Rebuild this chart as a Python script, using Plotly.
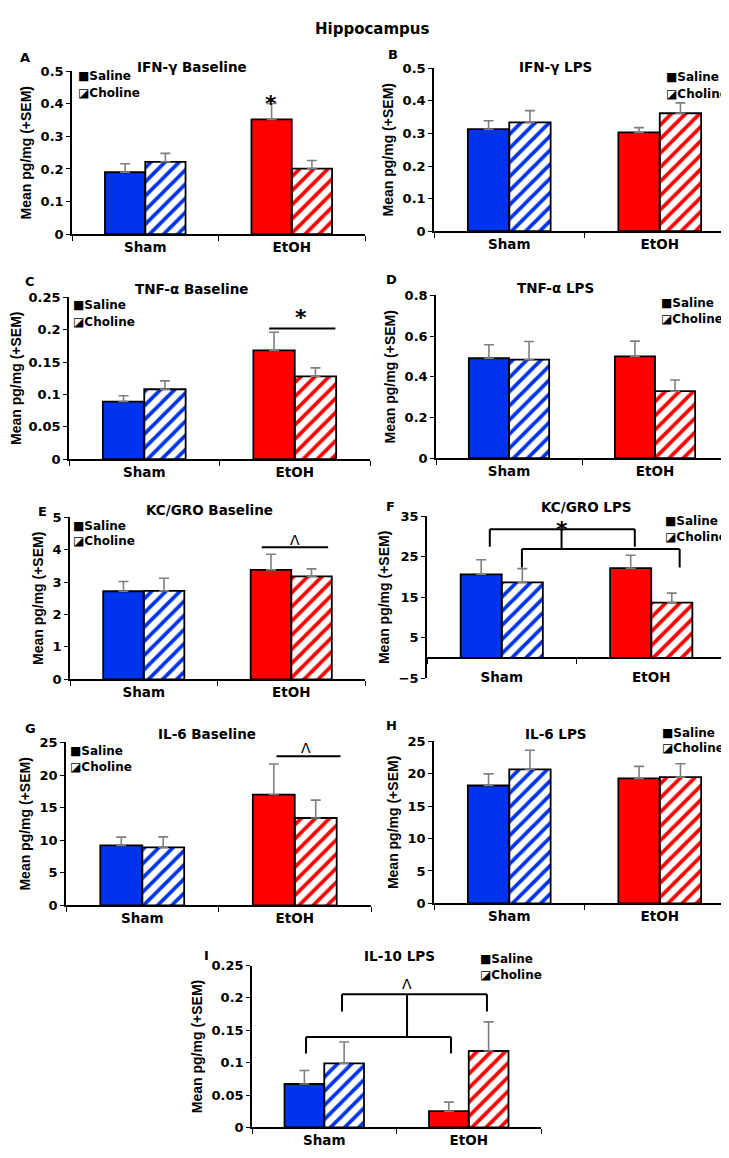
import plotly.graph_objects as go

W, H = 729, 1158

# ---------------- data ----------------
categories = ["Sham", "EtOH"]

ifng_base_saline = [0.190, 0.352]
ifng_base_saline_sem = [0.026, 0.049]
ifng_base_choline = [0.222, 0.201]
ifng_base_choline_sem = [0.026, 0.025]

ifng_lps_saline = [0.313, 0.303]
ifng_lps_saline_sem = [0.026, 0.015]
ifng_lps_choline = [0.334, 0.362]
ifng_lps_choline_sem = [0.036, 0.032]

tnfa_base_saline = [0.089, 0.168]
tnfa_base_saline_sem = [0.009, 0.028]
tnfa_base_choline = [0.108, 0.128]
tnfa_base_choline_sem = [0.013, 0.013]

tnfa_lps_saline = [0.491, 0.500]
tnfa_lps_saline_sem = [0.066, 0.075]
tnfa_lps_choline = [0.484, 0.329]
tnfa_lps_choline_sem = [0.089, 0.055]

kc_base_saline = [2.72, 3.38]
kc_base_saline_sem = [0.30, 0.48]
kc_base_choline = [2.73, 3.18]
kc_base_choline_sem = [0.39, 0.23]

kc_lps_saline = [20.7, 22.2]
kc_lps_saline_sem = [3.6, 3.2]
kc_lps_choline = [18.7, 13.7]
kc_lps_choline_sem = [3.4, 2.35]

il6_base_saline = [9.2, 17.0]
il6_base_saline_sem = [1.27, 4.7]
il6_base_choline = [8.9, 13.4]
il6_base_choline_sem = [1.6, 2.75]

il6_lps_saline = [18.2, 19.3]
il6_lps_saline_sem = [1.8, 1.85]
il6_lps_choline = [20.7, 19.5]
il6_lps_choline_sem = [2.95, 2.05]

il10_lps_saline = [0.067, 0.025]
il10_lps_saline_sem = [0.021, 0.014]
il10_lps_choline = [0.099, 0.118]
il10_lps_choline_sem = [0.033, 0.045]

# significance marks, x in category index units
# single lines: [x0, x1, y], mark: [text, x, y]
tnfa_base_line = [0.83, 1.27, 0.202]
tnfa_base_mark = ["*", 1.04, 0.226]
kc_base_line = [0.80, 1.25, 4.08]
kc_base_mark = ["Λ", 1.025, 4.31]
il6_base_line = [0.88, 1.30, 22.87]
il6_base_mark = ["Λ", 1.075, 24.2]
ifng_base_mark = ["*", 0.855, 0.416]
# brackets: [x0, x1, y, y_drop], stem: [x, y0, y1]
kc_lps_brackets = [[-0.08, 0.89, 31.8, 27.5], [0.135, 1.19, 26.95, 22.4]]
kc_lps_stem = [0.40, 26.95, 31.8]
kc_lps_mark = ["*", 0.40, 33.0]
il10_brackets = [[-0.126, 0.877, 0.1397, 0.114], [0.123, 1.126, 0.2058, 0.179]]
il10_stem = [0.573, 0.1397, 0.2058]
il10_mark = ["Λ", 0.573, 0.221]

# ---------------- panel set-up ----------------
# box = (left, top, right, bottom) in px
panels = [
    dict(letter="A", title="IFN-γ Baseline", s=ifng_base_saline, ss=ifng_base_saline_sem,
         c=ifng_base_choline, cs=ifng_base_choline_sem, yr=[0, 0.5], dt=0.1,
         box=(64, 57, 357, 222), tpos=(184, 53), lpos=(17, 43), leg=(68, 62, 79),
         marks=[ifng_base_mark]),
    dict(letter="B", title="IFN-γ LPS", s=ifng_lps_saline, ss=ifng_lps_saline_sem,
         c=ifng_lps_choline, cs=ifng_lps_choline_sem, yr=[0, 0.5], dt=0.1,
         box=(426, 54, 727, 219), tpos=(547, 53), lpos=(385, 40), leg=(656, 63, 80)),
    dict(letter="C", title="TNF-α Baseline", s=tnfa_base_saline, ss=tnfa_base_saline_sem,
         c=tnfa_base_choline, cs=tnfa_base_choline_sem, yr=[0, 0.25], dt=0.05,
         box=(61, 286, 362, 450), tpos=(184, 278), lpos=(22, 270), leg=(63, 294, 311),
         lines=[tnfa_base_line], marks=[tnfa_base_mark]),
    dict(letter="D", title="TNF-α LPS", s=tnfa_lps_saline, ss=tnfa_lps_saline_sem,
         c=tnfa_lps_choline, cs=tnfa_lps_choline_sem, yr=[0, 0.8], dt=0.2,
         box=(428, 284, 720, 449), tpos=(547, 277), lpos=(383, 268), leg=(651, 292, 308)),
    dict(letter="E", title="KC/GRO Baseline", s=kc_base_saline, ss=kc_base_saline_sem,
         c=kc_base_choline, cs=kc_base_choline_sem, yr=[0, 5], dt=1,
         box=(62, 509, 357, 673), tpos=(202, 502), lpos=(34, 503), leg=(63, 518, 533),
         lines=[kc_base_line], marks=[kc_base_mark]),
    dict(letter="F", title="KC/GRO LPS", s=kc_lps_saline, ss=kc_lps_saline_sem,
         c=kc_lps_choline, cs=kc_lps_choline_sem, yr=[-5, 35], dt=10,
         box=(419, 508, 718, 672), tpos=(578, 498), lpos=(382, 498), leg=(655, 513, 529),
         brackets=kc_lps_brackets, stem=kc_lps_stem, marks=[kc_lps_mark]),
    dict(letter="G", title="IL-6 Baseline", s=il6_base_saline, ss=il6_base_saline_sem,
         c=il6_base_choline, cs=il6_base_choline_sem, yr=[0, 25], dt=5,
         box=(58, 737, 363, 902), tpos=(199, 728), lpos=(22, 723), leg=(60, 746, 762),
         lines=[il6_base_line], marks=[il6_base_mark]),
    dict(letter="H", title="IL-6 LPS", s=il6_lps_saline, ss=il6_lps_saline_sem,
         c=il6_lps_choline, cs=il6_lps_choline_sem, yr=[0, 25], dt=5,
         box=(426, 736, 727, 900), tpos=(548, 728), lpos=(383, 720), leg=(652, 727, 743)),
    dict(letter="I", title="IL-10 LPS", s=il10_lps_saline, ss=il10_lps_saline_sem,
         c=il10_lps_choline, cs=il10_lps_choline_sem, yr=[0, 0.25], dt=0.05,
         box=(244, 963, 533, 1127), tpos=(391, 953), lpos=(198, 953), leg=(470, 956, 973),
         brackets=il10_brackets, stem=il10_stem, marks=[il10_mark]),
]

BLUE = "#0033ee"
RED = "#ff0000"
FONT = "DejaVu Sans"
TICKFONT = dict(family=FONT, size=13, color="black", weight="bold")


def fx(v):
    return v / W


def fy(v):
    return 1 - v / H


def paper_text(text, x, y, size, xanchor="center", weight="bold"):
    return dict(text=text, x=fx(x), y=fy(y), xref="paper", yref="paper",
                xanchor=xanchor, yanchor="middle", showarrow=False,
                font=dict(family=FONT, size=size, weight=weight, color="black"))


fig = go.Figure()
layout = {}
annotations = [paper_text("Hippocampus", 364, 14, 15)]
shapes = []

for i, p in enumerate(panels, start=1):
    sfx = "" if i == 1 else str(i)
    xa, ya = "x" + sfx, "y" + sfx
    for vals, sem, hatched in ((p["s"], p["ss"], False), (p["c"], p["cs"], True)):
        if hatched:
            marker = dict(color=[BLUE, RED], line=dict(color="black", width=1.8),
                          pattern=dict(shape="/", fillmode="replace", bgcolor="white",
                                       fgcolor=[BLUE, RED], size=10, solidity=0.38))
        else:
            marker = dict(color=[BLUE, RED], line=dict(color="black", width=1.8))
        fig.add_trace(go.Bar(
            x=categories, y=vals, xaxis=xa, yaxis=ya, showlegend=False, marker=marker,
            error_y=dict(type="data", array=sem, arrayminus=[0, 0], symmetric=False,
                         color="#7f7f7f", thickness=1.6, width=5),
        ))

    left, top, right, bottom = p["box"]
    ydom = [fy(bottom), fy(top)]
    xaxis = dict(domain=[fx(left), fx(right)], anchor=ya, type="category",
                 categoryarray=categories, range=[-0.5, 1.5],
                 showline=True, linecolor="black", linewidth=1.5,
                 ticks="outside", tickson="boundaries", ticklen=5, tickcolor="black", tickwidth=1.2,
                 tickfont=dict(TICKFONT, size=13.5), showgrid=False)
    yaxis = dict(domain=ydom, anchor=xa, range=p["yr"], dtick=p["dt"], tick0=p["yr"][0],
                 showline=True, linecolor="black", linewidth=1.5,
                 ticks="outside", ticklen=4, tickcolor="black", tickwidth=1.2,
                 tickfont=TICKFONT, showgrid=False, zeroline=False,
                 title=dict(text="Mean pg/mg (+SEM)", standoff=6,
                            font=dict(family="Liberation Sans", size=14, weight="bold", color="black")))
    if p["yr"][0] < 0:
        # x axis crosses at zero
        r0, r1 = p["yr"]
        xaxis.update(anchor="free", position=ydom[0] + (0 - r0) / (r1 - r0) * (ydom[1] - ydom[0]),
                     ticklabelstandoff=7)
    layout["xaxis" + sfx] = xaxis
    layout["yaxis" + sfx] = yaxis

    # titles, letters, legends
    annotations.append(paper_text(p["title"], p["tpos"][0], p["tpos"][1], 13.5))
    annotations.append(paper_text(p["letter"], p["lpos"][0], p["lpos"][1], 13))
    lx, ly1, ly2 = p["leg"]
    annotations.append(paper_text("■Saline", lx, ly1, 12, xanchor="left"))
    annotations.append(paper_text("◪Choline", lx, ly2, 12, xanchor="left"))

    line_style = dict(color="black", width=2)
    for x0, x1, y in p.get("lines", []):
        shapes.append(dict(type="line", xref=xa, yref=ya, x0=x0, x1=x1, y0=y, y1=y, line=line_style))
    for x0, x1, y, yd in p.get("brackets", []):
        shapes.append(dict(type="line", xref=xa, yref=ya, x0=x0, x1=x1, y0=y, y1=y, line=line_style))
        shapes.append(dict(type="line", xref=xa, yref=ya, x0=x0, x1=x0, y0=y, y1=yd, line=line_style))
        shapes.append(dict(type="line", xref=xa, yref=ya, x0=x1, x1=x1, y0=y, y1=yd, line=line_style))
    if "stem" in p:
        sx, sy0, sy1 = p["stem"]
        shapes.append(dict(type="line", xref=xa, yref=ya, x0=sx, x1=sx, y0=sy0, y1=sy1, line=line_style))
    for txt, mx, my in p.get("marks", []):
        star = txt == "*"
        annotations.append(dict(text=txt, x=mx, y=my, xref=xa, yref=ya, showarrow=False,
                                xanchor="center", yanchor="middle",
                                yshift=-5 if star else 0,
                                font=dict(family=FONT, size=22 if star else 14,
                                          weight="bold" if star else "normal", color="black")))

fig.update_layout(
    width=W, height=H,
    margin=dict(l=0, r=0, t=0, b=0),
    paper_bgcolor="white", plot_bgcolor="white",
    barmode="group", bargap=0.45, bargroupgap=0,
    annotations=annotations, shapes=shapes,
    font=dict(family=FONT, color="black"),
    **layout,
)

fig.write_html("out.html")
